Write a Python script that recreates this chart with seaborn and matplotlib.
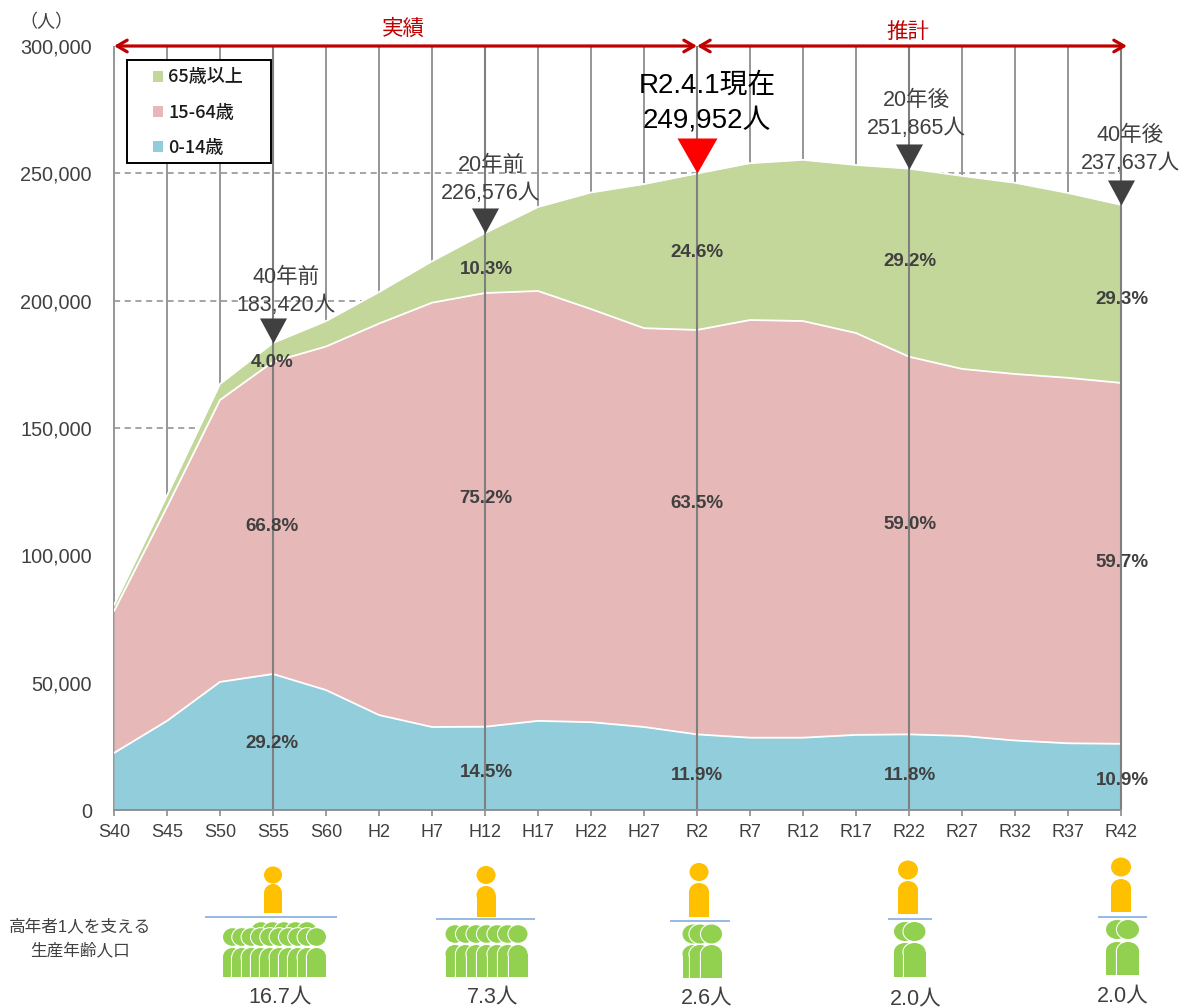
import matplotlib
matplotlib.use("Agg")
import matplotlib.pyplot as plt
from matplotlib.patches import Ellipse, Rectangle, Patch
import numpy as np
import pandas as pd
import seaborn as sns

eras = ["S40","S45","S50","S55","S60","H2","H7","H12","H17","H22","H27","R2","R7","R12","R17","R22","R27","R32","R37","R42"]
young = [22400,35000,50300,53400,47100,37300,32600,32700,35000,34500,32600,29700,28400,28400,29500,29700,29100,27300,26200,26000]
young_working = [78100,119000,161000,176000,182000,191000,199200,203000,203800,196700,189200,188500,192400,192000,187300,178000,173200,171200,169700,167700]
total = [80500,123500,167300,183420,192000,203400,215500,226576,236800,242500,245800,249952,254000,255300,253300,251865,249000,246300,242300,237637]
working = [b - a for a, b in zip(young, young_working)]
elderly = [t - b for t, b in zip(total, young_working)]
y_ticks = [0,50000,100000,150000,200000,250000,300000]
dash_ticks = [150000,200000,250000]
series_names = ["0-14歳","15-64歳","65歳以上"]
series_colors = ["#92CDDC","#E6B8B7","#C4D79B"]
marked = ["S55","H12","R2","R22","R42"]

sns.set_theme(style="white")
CJK = "Noto Sans CJK JP"
plt.rcParams["font.family"] = [CJK, "DejaVu Sans"]
LAT = ["Liberation Sans", CJK]
TXT = "#404040"
W, H = 1191, 1007
fig = plt.figure(figsize=(W/100, H/100), dpi=100, facecolor="white")
ax = fig.add_axes([114/W, (H-810)/H, 1007/W, 764/H])
x = np.arange(len(eras))

ax.hlines(dash_ticks, 0, x[-1], colors="#8c8c8c", linestyles=(0,(4,3)), lw=1.1, zorder=1)
ax.vlines(x, 0, 300000, colors="#969696", lw=1.4, zorder=1, clip_on=False)

polys = ax.stackplot(x, young, working, elderly, colors=series_colors, labels=series_names, zorder=2, lw=0)

bounds = pd.DataFrame({"x": np.tile(x, 3),
                       "y": young + young_working + total,
                       "s": np.repeat(["a","b","c"], len(x))})
sns.lineplot(data=bounds, x="x", y="y", units="s", estimator=None, color="white", lw=1.3, ax=ax, legend=False, zorder=3)

idx = [eras.index(m) for m in marked]
ax.vlines(idx, 0, 300000, colors="#7f7f7f", lw=1.5, zorder=4, clip_on=False)

mx = [i for i in idx if eras[i] != "R2"]
ax.scatter(mx, [total[i] for i in mx], marker=[(0,0),(-13.5,25),(13.5,25)], s=1300, c="#404040", linewidths=0, zorder=5, clip_on=False)
r2 = eras.index("R2")
ax.scatter([r2], [total[r2]], marker=[(0,0),(-20,35),(20,35)], s=2540, c="#FF0000", linewidths=0, zorder=5, clip_on=False)

ax.set_xlim(0, x[-1]); ax.set_ylim(0, 300000)
ax.set_xticks(x); ax.set_xticklabels(eras, fontsize=13, color=TXT, family=LAT)
ax.set_yticks(y_ticks); ax.set_yticklabels([f"{v:,}" for v in y_ticks], fontsize=14.3, color=TXT, family=LAT)
ax.set_xlabel(""); ax.set_ylabel("")
ax.tick_params(axis="x", length=4, width=1.2, color="#8c8c8c", pad=6, bottom=True)
ax.tick_params(axis="y", length=0, pad=16)
for k, s in ax.spines.items():
    s.set_visible(k == "bottom")
ax.spines["bottom"].set_color("#8c8c8c"); ax.spines["bottom"].set_linewidth(1.3)
ax.spines["bottom"].set_zorder(6)
ax.patch.set_alpha(0)

ov = fig.add_axes([0,0,1,1], facecolor="none")
ov.set_xlim(0, W); ov.set_ylim(H, 0); ov.axis("off")

frame = Rectangle((127,60), 144, 103, transform=ov.transData, fc="white", ec="black", lw=1.4, zorder=6.5, clip_on=False)
ax.add_patch(frame)
handles = [Patch(color=c, lw=0) for c in series_colors[::-1]]
leg = ax.legend(handles, series_names[::-1], loc="upper left", bbox_to_anchor=(39/1007, 1-22.5/764), borderaxespad=0,
                frameon=False, prop={"size":13,"weight":"medium"},
                handlelength=0.55, handleheight=0.55, handletextpad=0.3, labelspacing=0.95, borderpad=0)
leg.set_zorder(7)
for t_ in leg.get_texts():
    t_.set_color("#1a1a1a")

def t(px, py, s, size=15.5, c=TXT, family=LAT, **kw):
    ov.text(px, py + 1.5, s, fontsize=size, color=c, ha="center", va="center", family=family, **kw)

t(46, 21, "（人）", 13)
RED = "#C00000"
for a, b in [(114,697),(697,1127)]:
    ov.annotate("", xy=(a,46), xytext=(b,46), arrowprops=dict(arrowstyle="<->,head_length=0.6,head_width=0.35", color=RED, lw=2.3, shrinkA=0, shrinkB=0))
t(403, 28, "実績", 15.5, RED)
t(908, 31, "推計", 15.5, RED)

t(707, 84, "R2.4.1現在", 20, "black")
t(707, 119, "249,952人", 20, "black")
for px, a, b, ya in [(286,"40年前","183,420人",276),(491,"20年前","226,576人",164),(916,"20年後","251,865人",99),(1130,"40年後","237,637人",134)]:
    t(px, ya, a)
    t(px, ya+28, b)

pct = [(272,361,"4.0%"),(272,525,"66.8%"),(272,742,"29.2%"),
       (486,268,"10.3%"),(486,497,"75.2%"),(486,771,"14.5%"),
       (697,251,"24.6%"),(697,502,"63.5%"),(697,774,"11.9%"),
       (910,260,"29.2%"),(910,523,"59.0%"),(910,774,"11.8%"),
       (1122,298,"29.3%"),(1122,561,"59.7%"),(1122,779,"10.9%")]
for px, py, s in pct:
    t(px, py, s, 13.5, weight="bold")

YEL, GRN, BLU = "#FFC000", "#92D050", "#8EB4E3"
def person(cx, head_y, rx, ry, w, top, bottom, color, z, edge=None):
    r = w/2
    sh = min(r, 9.0)
    passes = [(color, 0, 0.001)]
    if edge:
        passes.insert(0, (edge, 1.6, 0))
    for col, lw_, dz in passes:
        ov.add_patch(Ellipse((cx, head_y), 2*rx, 2*ry, fc=col, ec=col, lw=lw_, zorder=z+dz))
        ov.add_patch(Rectangle((cx-r, top+sh), w, bottom-top-sh, fc=col, ec=col, lw=lw_, zorder=z+dz))
        ov.add_patch(Ellipse((cx, top+sh), w, 2*sh, fc=col, ec=col, lw=lw_, zorder=z+dz))

def group(cx, hy, brx, bw, btop, bbot, line, xs, gh, gry, grx, gw, gtop, gbot, back, label):
    person(cx, hy, brx, brx*0.95, bw, btop, bbot, YEL, 10)
    ov.plot(line[:2], [line[2]]*2, color=BLU, lw=1.3, zorder=30, solid_capstyle="butt")
    for i, bx in enumerate(back):
        person(bx, gh-6, grx, gry, gw, gtop+8, gbot, GRN, 11+0.01*i, edge="white")
    for i, px in enumerate(xs):
        person(px, gh, grx, gry, gw, gtop, gbot, GRN, 12+0.01*i, edge="white")
    t(label[0], label[1], label[2], 15.5)

group(273,875,9,18,884,913,(205,337,917),np.linspace(232.5,316.5,10),937,8.8,9.5,19,948,977,np.linspace(261,307,5),(280,995,"16.7人"))
group(486,875,9.5,19,886,917,(436,535,919),np.linspace(455,518,7),934,8.8,9.5,19,945,977,[],(493,995,"7.3人"))
group(699,872,9.5,20,883,917,(670,730,921),[693,700,711.5],934,9.5,10.5,21,945,978,[],(707,996,"2.6人"))
group(908,870,10,20,881,914,(888,932,919),[905,914.5],931.5,9.5,11,22,943,977,[],(916,997,"2.0人"))
group(1121,867,10,20,879,912,(1098,1147,917),[1117,1128],929.5,9.5,11,22,942,975,[],(1123,994,"2.0人"))

t(80, 925, "高年者1人を支える", 12)
t(80, 949, "生産年齢人口", 12)

fig.savefig("out.png", dpi=100)
